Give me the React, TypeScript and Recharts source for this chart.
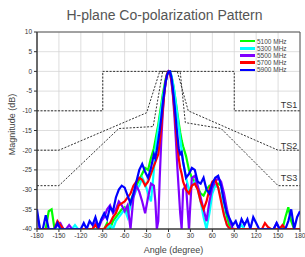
import {
  CartesianGrid,
  Legend,
  Line,
  LineChart,
  ReferenceArea,
  ReferenceDot,
  XAxis,
  YAxis,
} from "recharts";

// measurement angles (degree)
const angles = [
  -180, -176, -172, -168, -164, -160, -156, -152, -148, -144, -140, -136, -132, -128, -124, -120, -116, -112, -108, -104, -100, -96, -92,
  -88, -84, -80, -76, -72, -68, -64, -60, -56, -52, -48, -44, -40, -36, -32, -28, -24, -20,
  -18, -16, -14, -12, -10, -8, -6, -4, -2, 0, 2, 4, 6, 8, 10, 12, 14, 16, 18,
  20, 24, 28, 32, 36, 40, 44, 48, 52, 56, 60, 64, 68, 72, 76, 80, 84, 88,
  92, 96, 100, 104, 108, 112, 116, 120, 124, 128, 132, 136, 140, 144, 148, 152, 156, 160, 164, 168, 172, 176, 180,
];

const mag5100 = [
  -40, -40, -40, -40, -35.5, -35, -40, -40, -40, -40, -40, -40, -40, -40, -40, -40, -40, -40, -40, -40, -40, -40, -40,
  -40, -38.5, -40, -38, -37, -36, -35, -34.5, -36, -33, -31, -29, -27.5, -26, -24.5, -25, -22, -19.5,
  -17.5, -15.5, -13.5, -11, -8.5, -6, -4, -2, -0.7, 0, -0.2, -1.3, -3, -5.2, -7.8, -10.5, -13, -15.5, -17.5,
  -19, -21.5, -25, -27, -28, -29.5, -31, -31.5, -30, -29, -29.5, -29, -28.5, -29, -33, -37, -39.5, -40,
  -40, -40, -40, -40, -40, -40, -40, -40, -40, -40, -40, -40, -40, -40, -40, -40, -40, -37, -34.5, -38, -40, -40, -40,
];

const mag5300 = [
  -40, -40, -40, -40, -40, -40, -40, -40, -40, -40, -40, -40, -40, -39, -40, -40, -40, -40, -40, -40, -40, -40, -40,
  -40, -40, -39, -40, -38, -37, -36, -35, -37, -34, -32, -30, -29, -27, -28.5, -31, -33, -25,
  -20, -17, -14.5, -12, -9.5, -7, -4.8, -2.8, -1, -0.1, 0, -1, -2.8, -5, -8, -11, -14, -17, -20,
  -23, -27, -30, -29, -28, -30, -33, -37, -40, -36, -31, -29, -29.5, -32, -36, -39, -40, -40,
  -40, -40, -39, -40, -40, -40, -40, -40, -40, -40, -40, -40, -40, -40, -40, -40, -40, -40, -40, -40, -40, -40, -40,
];

const mag5500 = [
  -36.5, -40, -40, -40, -40, -40, -40, -39, -38.5, -40, -40, -39, -40, -40, -40, -40, -40, -40, -40, -40, -38.5, -40, -38,
  -37, -35, -34, -36, -35, -33, -34, -35.5, -34, -40, -32, -29, -30.5, -33, -36, -32, -28.5, -29,
  -33, -40, -38, -27, -18, -11, -6, -2.8, -0.8, 0, -0.5, -2.5, -6, -11, -17, -24, -30, -36, -40,
  -30, -29, -40, -27, -26.5, -29, -32, -35, -38, -33, -29.5, -28, -27, -28, -31, -35, -38, -40,
  -40, -40, -40, -40, -40, -40, -40, -40, -40, -40, -40, -40, -40, -40, -38.5, -40, -40, -40, -40, -40, -40, -40, -40,
];

const mag5700 = [
  -40, -40, -40, -40, -40, -40, -40, -38, -39, -40, -40, -40, -40, -40, -40, -40, -40, -40, -40, -40, -39, -40, -40,
  -40, -39, -38.5, -37, -36, -34, -33.5, -33, -32, -31, -29, -28, -27, -27.5, -29, -28, -26, -24,
  -23, -22, -21, -18, -14.5, -10, -6, -2.8, -0.7, 0, -0.3, -2.2, -5.5, -9.5, -14, -18.5, -22, -24.5, -26,
  -28, -30, -31, -29, -28.5, -30, -33, -35, -33, -30, -28, -27.5, -29.5, -33, -36.5, -39, -40, -40,
  -40, -40, -40, -40, -40, -40, -40, -40, -40, -40, -38.5, -39.5, -40, -40, -40, -40, -39, -40, -40, -40, -40, -40, -40,
];

const mag5900 = [
  -35, -40, -40, -36.5, -40, -40, -40, -38.5, -40, -40, -40, -40, -40, -40, -40, -40, -38.5, -40, -38, -39, -37, -39.5, -37.5,
  -36, -37.5, -34.5, -35.5, -32, -30, -29, -29.5, -31.5, -33.5, -31, -28, -25, -23.5, -25.5, -27, -24.5, -21,
  -22, -20, -17.5, -15, -12, -8.5, -5.5, -2.8, -1, -0.1, 0, -1.5, -4.5, -8, -12, -16, -19.5, -21, -20.5,
  -23, -27, -26, -24.5, -25, -28, -28.5, -27, -30, -31, -28.5, -27, -26.5, -29, -33, -36, -37.5, -39,
  -38, -40, -37.5, -39, -37.5, -40, -37, -38.5, -40, -40, -40, -40, -40, -40, -38.5, -40, -40, -40, -38, -35, -40, -37, -35.5,
];

// spec templates
const ts1Angles = [-180, -90, -90, 90, 90, 180];
const ts1Values = [-10, -10, 0, 0, -10, -10];
const ts2Angles = [-180, -150, -30, -12, 12, 27, 150, 180];
const ts2Values = [-20, -20, -10.5, 0, 0, -10, -20, -20];
const ts3Angles = [-180, -150, -68, -21, -8, 16, 23, 72, 150, 180];
const ts3Values = [-29, -29, -14.5, -14, 0, 0, -13, -14.5, -29, -29];

const xTicks = [-180, -150, -120, -90, -60, -30, 0, 30, 60, 90, 120, 150, 180];
const yTicks = [10, 5, 0, -5, -10, -15, -20, -25, -30, -35, -40];

const seriesNames = ["5100 MHz", "5300 MHz", "5500 MHz", "5700 MHz", "5900 MHz"];
const seriesKeys = ["f5100", "f5300", "f5500", "f5700", "f5900"];
const seriesColors = ["#00ff00", "#00ffff", "#8000ff", "#ff0000", "#0000ff"];
const seriesValues = [mag5100, mag5300, mag5500, mag5700, mag5900];

const data = angles.map((a, i) => {
  const row: Record<string, number> = { angle: a };
  seriesKeys.forEach((k, j) => {
    row[k] = seriesValues[j][i];
  });
  return row;
});

const toMask = (xs: number[], ys: number[]) => xs.map((a, i) => ({ angle: a, mask: ys[i] }));
const ts1 = toMask(ts1Angles, ts1Values);
const ts2 = toMask(ts2Angles, ts2Values);
const ts3 = toMask(ts3Angles, ts3Values);

const FONT = "'Liberation Sans', Arial, sans-serif";

const LegendBox = () => (
  <div style={{ fontFamily: FONT, fontSize: 6.5, color: "#444" }}>
    {seriesNames.map((n, i) => (
      <div key={n} style={{ display: "flex", alignItems: "center", height: 7.2 }}>
        <span style={{ width: 15, height: 2.5, background: seriesColors[i], marginRight: 2 }} />
        <span style={{ lineHeight: "7px", whiteSpace: "nowrap" }}>{n}</span>
      </div>
    ))}
  </div>
);

const YTitle = (props: any) => {
  const vb = props.viewBox || { x: 0, y: 32, height: 197 };
  const cx = vb.x + 12;
  const cy = vb.y + vb.height / 2 - 6;
  return (
    <text x={cx} y={cy} transform={`rotate(-90 ${cx} ${cy})`} textAnchor="middle" dominantBaseline="central" fontSize={9} fill="#444">
      Magnitude (dB)
    </text>
  );
};

const XTitle = (props: any) => {
  const vb = props.viewBox || { x: 37, y: 229, width: 263 };
  return (
    <text x={vb.x + vb.width / 2 + 5} y={vb.y + 21} textAnchor="middle" dominantBaseline="central" fontSize={9} fill="#444">
      Angle (degree)
    </text>
  );
};

const tsLabel = { fontSize: 9, fill: "#333", position: "center" as const };

export default function App() {
  return (
    <div style={{ position: "absolute", left: 0, top: 0, width: 305, height: 257, fontFamily: FONT, background: "#fff" }}>
      <div style={{ position: "absolute", left: 0, top: 7, width: 329, textAlign: "center", fontSize: 14, lineHeight: "16px", color: "#555" }}>
        H-plane Co-polarization Pattern
      </div>
      <LineChart width={305} height={257} data={data} margin={{ top: 32, right: 5, bottom: 0, left: 0 }} style={{ fontFamily: FONT }}>
        <CartesianGrid stroke="#d6d6d6" strokeWidth={0.8} />
        <XAxis
          dataKey="angle"
          type="number"
          domain={[-180, 180]}
          ticks={xTicks}
          allowDataOverflow
          height={28}
          tickSize={3}
          tickMargin={1}
          interval={0}
          tick={{ fontSize: 6.5, fill: "#333" }}
          stroke="#333"
          label={<XTitle />}
        />
        <YAxis
          type="number"
          domain={[-40, 10]}
          ticks={yTicks}
          allowDataOverflow
          width={37}
          tickSize={3}
          tickMargin={2}
          interval={0}
          tick={{ fontSize: 6.5, fill: "#333" }}
          stroke="#333"
          label={<YTitle />}
        />
        <ReferenceArea x1={-180} x2={180} y1={-40} y2={10} fill="none" stroke="#555" strokeWidth={1} />
        <Line data={ts1} dataKey="mask" type="linear" stroke="#333" strokeWidth={1} strokeDasharray="2 1.5" dot={false} isAnimationActive={false} legendType="none" />
        <Line data={ts2} dataKey="mask" type="linear" stroke="#333" strokeWidth={1} strokeDasharray="2 1.5" dot={false} isAnimationActive={false} legendType="none" />
        <Line data={ts3} dataKey="mask" type="linear" stroke="#333" strokeWidth={1} strokeDasharray="2 1.5" dot={false} isAnimationActive={false} legendType="none" />
        {seriesKeys.map((k, i) => (
          <Line
            key={k}
            dataKey={k}
            name={seriesNames[i]}
            type="linear"
            stroke={seriesColors[i]}
            strokeWidth={2.2}
            dot={false}
            isAnimationActive={false}
          />
        ))}
        <ReferenceDot x={165} y={-8.6} r={0} fill="none" stroke="none" label={{ ...tsLabel, value: "TS1" }} />
        <ReferenceDot x={165} y={-18.8} r={0} fill="none" stroke="none" label={{ ...tsLabel, value: "TS2" }} />
        <ReferenceDot x={165} y={-27.1} r={0} fill="none" stroke="none" label={{ ...tsLabel, value: "TS3" }} />
        <Legend
          layout="vertical"
          align="center"
          verticalAlign="middle"
          wrapperStyle={{ left: 240, top: 37.5, width: 62 }}
          content={<LegendBox />}
        />
      </LineChart>
    </div>
  );
}
